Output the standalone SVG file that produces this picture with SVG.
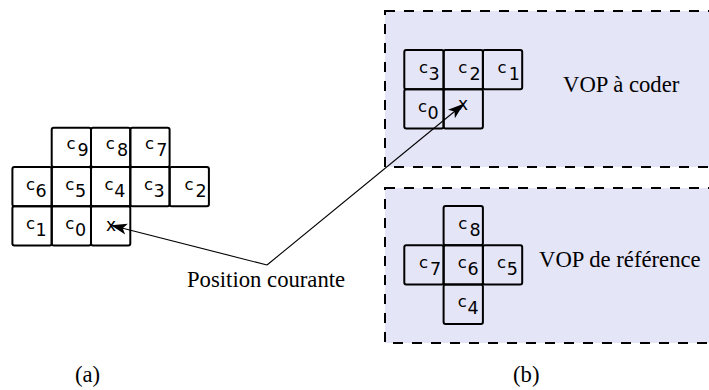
<svg xmlns="http://www.w3.org/2000/svg" width="709" height="390" viewBox="0 0 709 390">
<style>
.box{fill:#e5e5f8;stroke:#000;stroke-width:2;stroke-dasharray:10 9}
.cell{fill:none;stroke:#000;stroke-width:2}
.c{font-family:"DejaVu Sans",sans-serif;font-size:16.5px;fill:#000}
.s{font-size:17.5px}
.lbl{font-family:"Liberation Serif","Times New Roman",serif;font-size:22.7px;fill:#000}
.x{font-family:"DejaVu Sans",sans-serif;font-size:17px;fill:#000;text-anchor:middle}
.conn{fill:none;stroke:#000;stroke-width:1.1}
</style>
<defs>
<marker id="ah" markerWidth="16" markerHeight="12" viewBox="0 0 16 12" refX="15" refY="6" orient="auto" markerUnits="userSpaceOnUse">
<path d="M0,0.5 L16,6 L0,11.5 L4,6 Z" fill="#000"/>
</marker>
</defs>
<rect width="709" height="390" fill="#fff"/>
<g id="vop-coder">
<rect class="box" x="385" y="11" width="340" height="156"/>
<text class="lbl" x="563" y="92">VOP à coder</text>
</g>
<g id="vop-reference">
<rect class="box" x="385" y="188" width="340" height="155"/>
<text class="lbl" x="539" y="267">VOP de référence</text>
</g>
<g id="grid-a">
<rect class="cell" x="51.7" y="127.7" width="39.3" height="39.3" rx="2"/>
<rect class="cell" x="91" y="127.7" width="39.3" height="39.3" rx="2"/>
<rect class="cell" x="130.3" y="127.7" width="39.3" height="39.3" rx="2"/>
<rect class="cell" x="12.4" y="167" width="39.3" height="39.3" rx="2"/>
<rect class="cell" x="51.7" y="167" width="39.3" height="39.3" rx="2"/>
<rect class="cell" x="91" y="167" width="39.3" height="39.3" rx="2"/>
<rect class="cell" x="130.3" y="167" width="39.3" height="39.3" rx="2"/>
<rect class="cell" x="169.6" y="167" width="39.3" height="39.3" rx="2"/>
<rect class="cell" x="12.4" y="206.3" width="39.3" height="39.3" rx="2"/>
<rect class="cell" x="51.7" y="206.3" width="39.3" height="39.3" rx="2"/>
<rect class="cell" x="91" y="206.3" width="39.3" height="39.3" rx="2"/>
<text class="c" x="66.5" y="149.4">c<tspan class="s" dx="2" dy="7">9</tspan></text>
<text class="c" x="105.8" y="149.4">c<tspan class="s" dx="2" dy="7">8</tspan></text>
<text class="c" x="145.1" y="149.4">c<tspan class="s" dx="2" dy="7">7</tspan></text>
<text class="c" x="26" y="189.7">c<tspan class="s" dx="0.5" dy="7">6</tspan></text>
<text class="c" x="65.3" y="189.7">c<tspan class="s" dx="0.5" dy="7">5</tspan></text>
<text class="c" x="104.6" y="189.7">c<tspan class="s" dx="0.5" dy="7">4</tspan></text>
<text class="c" x="143.9" y="189.7">c<tspan class="s" dx="0.5" dy="7">3</tspan></text>
<text class="c" x="184.4" y="189.7">c<tspan class="s" dx="2" dy="7">2</tspan></text>
<text class="c" x="26" y="229">c<tspan class="s" dx="0.5" dy="7">1</tspan></text>
<text class="c" x="65.3" y="229">c<tspan class="s" dx="0.5" dy="7">0</tspan></text>
<text class="x" x="111" y="231">x</text>
</g>
<g id="grid-coder">
<rect class="cell" x="404.3" y="50" width="39.3" height="39.3" rx="2"/>
<rect class="cell" x="443.6" y="50" width="39.3" height="39.3" rx="2"/>
<rect class="cell" x="482.9" y="50" width="39.3" height="39.3" rx="2"/>
<rect class="cell" x="404.3" y="89.3" width="39.3" height="39.3" rx="2"/>
<rect class="cell" x="443.6" y="89.3" width="39.3" height="39.3" rx="2"/>
<text class="c" x="419" y="72.7">c<tspan class="s" dx="0.5" dy="7">3</tspan></text>
<text class="c" x="458.3" y="72.7">c<tspan class="s" dx="2" dy="7">2</tspan></text>
<text class="c" x="497.6" y="72.7">c<tspan class="s" dx="2" dy="7">1</tspan></text>
<text class="c" x="418" y="112">c<tspan class="s" dx="0.5" dy="7">0</tspan></text>
<text class="x" x="463" y="110">x</text>
</g>
<g id="grid-reference">
<rect class="cell" x="443.6" y="206" width="39.3" height="39.3" rx="2"/>
<rect class="cell" x="404.3" y="245.3" width="39.3" height="39.3" rx="2"/>
<rect class="cell" x="443.6" y="245.3" width="39.3" height="39.3" rx="2"/>
<rect class="cell" x="482.9" y="245.3" width="39.3" height="39.3" rx="2"/>
<rect class="cell" x="443.6" y="284.6" width="39.3" height="39.3" rx="2"/>
<text class="c" x="458.3" y="228.7">c<tspan class="s" dx="2" dy="7">8</tspan></text>
<text class="c" x="419" y="268">c<tspan class="s" dx="2" dy="7">7</tspan></text>
<text class="c" x="457.8" y="268">c<tspan class="s" dx="0.5" dy="7">6</tspan></text>
<text class="c" x="497.1" y="268">c<tspan class="s" dx="0.5" dy="7">5</tspan></text>
<text class="c" x="457.8" y="307.3">c<tspan class="s" dx="0.5" dy="7">4</tspan></text>
</g>
<g id="connectors">
<polyline class="conn" points="267,265 112,225.5" marker-end="url(#ah)"/>
<polyline class="conn" points="267,265 463,104.5" marker-end="url(#ah)"/>
</g>
<g id="labels">
<text class="lbl" x="187" y="287">Position courante</text>
<text class="lbl" x="75" y="382">(a)</text>
<text class="lbl" x="513" y="382">(b)</text>
</g>
</svg>
